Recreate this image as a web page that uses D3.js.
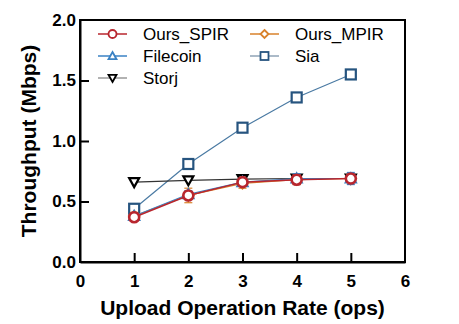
<!DOCTYPE html>
<html>
<head>
<meta charset="utf-8">
<script src="https://cdn.jsdelivr.net/npm/d3@7"></script>
<style>
  body { margin: 0; background: #fff; }
  text { font-family: "Liberation Sans", Arial, sans-serif; }
</style>
</head>
<body>
<div id="chart"></div>
<script>
const rates = [1, 2, 3, 4, 5];
const spir = [0.37, 0.55, 0.66, 0.68, 0.69];
const spirErr = [0.03, 0.03, 0.03, 0.04, 0.03];
const mpir = [0.38, 0.55, 0.65, 0.68, 0.69];
const mpirErr = [0.03, 0.06, 0.04, 0.04, 0.03];
const filecoin = [0.38, 0.56, 0.66, 0.69, 0.69];
const filecoinErr = [0.02, 0.03, 0.03, 0.04, 0.05];
const sia = [0.44, 0.81, 1.11, 1.36, 1.55];
const storj = [0.66, 0.675, 0.685, 0.69, 0.69];
const xTicks = [0, 1, 2, 3, 4, 5, 6];
const yTicks = [0, 0.5, 1.0, 1.5, 2.0];

const w = 459, h = 324;
const plotLeft = 80, plotRight = 405, plotTop = 20, plotBottom = 262;

const svg = d3.select("#chart").append("svg")
  .attr("width", w).attr("height", h);

const x = d3.scaleLinear().domain([0, 6]).range([plotLeft, plotRight]);
const y = d3.scaleLinear().domain([0, 2]).range([plotBottom, plotTop]);

// frame
svg.append("rect")
  .attr("x", plotLeft).attr("y", plotTop)
  .attr("width", plotRight - plotLeft).attr("height", plotBottom - plotTop)
  .attr("fill", "none").attr("stroke", "#000").attr("stroke-width", 2);

// axes (ticks pointing inward)
const xAxis = svg.append("g").attr("transform", `translate(0,${plotBottom})`)
  .call(d3.axisBottom(x).tickValues(xTicks).tickFormat(d3.format("d"))
    .tickSizeInner(-9).tickSizeOuter(0).tickPadding(13));
const yAxis = svg.append("g").attr("transform", `translate(${plotLeft},0)`)
  .call(d3.axisLeft(y).tickValues(yTicks).tickFormat(d3.format(".1f"))
    .tickSizeInner(-9).tickSizeOuter(0).tickPadding(4));
[xAxis, yAxis].forEach(g => {
  g.select(".domain").attr("stroke-width", 2);
  g.selectAll(".tick line").attr("stroke-width", 2);
  g.selectAll(".tick text").attr("font-size", "17px").attr("font-weight", "bold")
    .attr("fill", "#000").style("font-family", "'Liberation Sans', Arial, sans-serif");
});
xAxis.selectAll(".tick").filter(d => d === 0 || d === 6).select("line").remove();
yAxis.selectAll(".tick").filter(d => d === 0 || d === 2).select("line").remove();

svg.append("text")
  .attr("x", (plotLeft + plotRight) / 2).attr("y", 315)
  .attr("text-anchor", "middle").attr("font-size", "21px").attr("font-weight", "bold")
  .text("Upload Operation Rate (ops)");
svg.append("text")
  .attr("transform", `translate(36,${(plotTop + plotBottom) / 2}) rotate(-90)`)
  .attr("text-anchor", "middle").attr("font-size", "21px").attr("font-weight", "bold")
  .text("Throughput (Mbps)");

const series = [
  { name: "Sia", values: sia, err: null, color: "#26547f", line: "#4a7aa3", legendLine: "#8fa3b6", shape: "square" },
  { name: "Storj", values: storj, err: null, color: "#000", line: "#333", legendLine: "#999", shape: "tri-down" },
  { name: "Ours_MPIR", values: mpir, err: mpirErr, color: "#d9822b", line: "#d9822b", legendLine: "#d9822b", shape: "diamond" },
  { name: "Filecoin", values: filecoin, err: filecoinErr, color: "#3a82c4", line: "#3a82c4", legendLine: "#3a82c4", shape: "tri-up" },
  { name: "Ours_SPIR", values: spir, err: spirErr, color: "#b8262e", line: "#b8262e", legendLine: "#b8262e", shape: "circle" }
];

function marker(g, shape, color, size, sw) {
  const s = size;
  if (shape === "circle") {
    g.append("circle").attr("r", s / 2).attr("fill", "#fff").attr("stroke", color).attr("stroke-width", sw);
  } else if (shape === "square") {
    g.append("rect").attr("x", -s / 2).attr("y", -s / 2).attr("width", s).attr("height", s)
      .attr("fill", "#fff").attr("stroke", color).attr("stroke-width", sw);
  } else if (shape === "diamond") {
    g.append("path").attr("d", `M0,${-s / 2}L${s / 2},0L0,${s / 2}L${-s / 2},0Z`)
      .attr("fill", "#fff").attr("stroke", color).attr("stroke-width", sw);
  } else if (shape === "tri-up") {
    g.append("path").attr("d", `M0,${-s / 2}L${s / 2},${s / 2.5}L${-s / 2},${s / 2.5}Z`)
      .attr("fill", "#fff").attr("stroke", color).attr("stroke-width", sw);
  } else {
    g.append("path").attr("d", `M0,${s / 2}L${s / 2},${-s / 2.5}L${-s / 2},${-s / 2.5}Z`)
      .attr("fill", "#fff").attr("stroke", color).attr("stroke-width", sw);
  }
}

const line = d3.line().x((d, i) => x(rates[i])).y(d => y(d));

series.forEach(s => {
  svg.append("path").datum(s.values)
    .attr("d", line).attr("fill", "none")
    .attr("stroke", s.line).attr("stroke-width", s.shape === "circle" ? 1.5 : 1.2);
  if (s.err) {
    s.values.forEach((v, i) => {
      const cx = x(rates[i]);
      const g = svg.append("g").attr("stroke", s.color).attr("stroke-width", 1.2);
      g.append("line").attr("x1", cx).attr("x2", cx).attr("y1", y(v - s.err[i])).attr("y2", y(v + s.err[i]));
      [v - s.err[i], v + s.err[i]].forEach(e => {
        g.append("line").attr("x1", cx - 4).attr("x2", cx + 4).attr("y1", y(e)).attr("y2", y(e));
      });
    });
  }
  s.values.forEach((v, i) => {
    const g = svg.append("g").attr("transform", `translate(${x(rates[i])},${y(v)})`);
    marker(g, s.shape, s.color, s.shape === "circle" ? 10 : 10, s.shape === "circle" ? 2.6 : 2.2);
  });
});

// legend
const legendItems = [
  { name: "Ours_SPIR", col: 0, row: 0 },
  { name: "Ours_MPIR", col: 1, row: 0 },
  { name: "Filecoin", col: 0, row: 1 },
  { name: "Sia", col: 1, row: 1 },
  { name: "Storj", col: 0, row: 2 }
];
legendItems.forEach(item => {
  const s = series.find(d => d.name === item.name);
  const lx = item.col === 0 ? 98 : 250;
  const ly = 34 + item.row * 22;
  svg.append("line").attr("x1", lx).attr("x2", lx + 29).attr("y1", ly).attr("y2", ly)
    .attr("stroke", s.legendLine).attr("stroke-width", 1.5);
  const g = svg.append("g").attr("transform", `translate(${lx + 14.5},${ly})`);
  marker(g, s.shape, s.color, 8, 1.8);
  svg.append("text").attr("x", lx + 45).attr("y", ly + 6)
    .attr("font-size", "17px").text(s.name);
});
</script>
</body>
</html>
